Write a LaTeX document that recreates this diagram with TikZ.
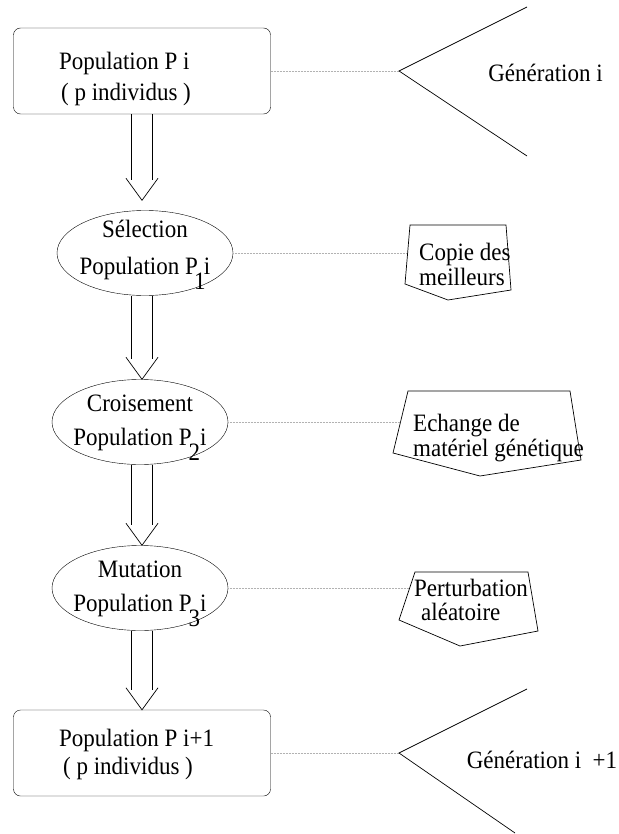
\documentclass[tikz,border=0pt]{standalone}
\usepackage{fontspec}
\setmainfont{Liberation Serif}[FakeStretch=0.92]
\usetikzlibrary{positioning,shapes.geometric,calc}
\newcommand{\lowdigit}[1]{\raisebox{-0.6em}{#1}}

\begin{document}
\begin{tikzpicture}[
  x=1pt, y=-1pt,
  every node/.style={inner sep=0pt, font=\fontsize{25}{28}\selectfont},
  popbox/.style={draw, rounded corners=7pt, minimum width=257pt, minimum height=86pt},
  poptext/.style={align=left, anchor=west},
  stageell/.style={draw, ellipse, inner sep=-10pt, minimum width=176pt, minimum height=85pt, align=center, font=\fontsize{25}{34}\selectfont},
  note/.style={align=left, anchor=north west, font=\fontsize{25}{25}\selectfont},
  link/.style={densely dotted, black!30, line width=0.5pt},
  outline/.style={line width=0.7pt}
]
  \useasboundingbox (0,0) rectangle (618,834);

  \node[popbox] (pop) at (142,71) {};
  \node[poptext, font=\fontsize{25}{31}\selectfont] (poptxt) at (59,79) {Population P i\\\hspace{2pt}( p individus )};
  \node[stageell, font=\fontsize{25}{37}\selectfont] (sel) at (145,253) {\rule{0pt}{20pt}Sélection\\Population P\hspace{2pt}\makebox[0pt]{\lowdigit{1}}\hspace{4pt}i};
  \node[stageell] (crois) at (140,422) {\rule{0pt}{28pt}Croisement\\Population P\kern-3pt\lowdigit{2}i};
  \node[stageell] (mut) at (140,588) {\rule{0pt}{28pt}Mutation\\Population P\kern-3pt\lowdigit{3}i};
  \node[popbox] (popnext) at (142,753) {};
  \node[poptext] (popnexttxt) at (59,754) {Population P i+1\\\hspace{4pt}( p individus )};

  \foreach \a/\b/\gap in {pop/sel/10, sel/crois/0, crois/mut/0, mut/popnext/0} {
    \coordinate (tip) at ($(pop.south |- \b.north)+(0,-\gap)$);
    \draw[outline] ($(pop.south |- \a.south)+(-10.5,0)$) -- ($(tip)+(-10.5,-20)$);
    \draw[outline] ($(pop.south |- \a.south)+(10.5,0)$) -- ($(tip)+(10.5,-20)$);
    \draw[outline] ($(tip)+(-16,-22)$) -- (tip) -- ($(tip)+(16,-22)$);
  }

  \coordinate (genvertex) at (399,71);
  \draw[link] (pop.east) -- (genvertex);
  \draw[outline] (527,7) -- (genvertex) -- (527,156);
  \node[anchor=base] (gen) at (545.5,82) {Génération i};

  \coordinate (copiein) at (407.7,253);
  \draw[link] (sel.east) -- (copiein);
  \draw[outline] (410,225) -- (506,225) -- (511,290) -- (448,300) -- (405,284) -- cycle;
  \node[note] (copie) at (419,243) {Copie des\\meilleurs};

  \coordinate (echangein) at (400.5,422);
  \draw[link] (crois.east) -- (echangein);
  \draw[outline] (408,391) -- (570,391) -- (581,460) -- (480,476) -- (393,453) -- cycle;
  \node[note] (echange) at (413,414) {Echange de\\matériel génétique};

  \coordinate (pertin) at (409.7,588);
  \draw[link] (mut.east) -- (pertin);
  \draw[outline] (415,572) -- (528,572) -- (538,631) -- (460,646) -- (399,620) -- cycle;
  \node[note, font=\fontsize{25}{24}\selectfont] (pert) at (414,579) {Perturbation\\\hspace{7pt}aléatoire};

  \coordinate (gennextvertex) at (399,753);
  \draw[link] (popnext.east) -- (gennextvertex);
  \draw[outline] (527,689) -- (gennextvertex) -- (515,833);
  \node[anchor=base] (gennext) at (542,768) {Génération i\ \ +1};
\end{tikzpicture}
\end{document}
